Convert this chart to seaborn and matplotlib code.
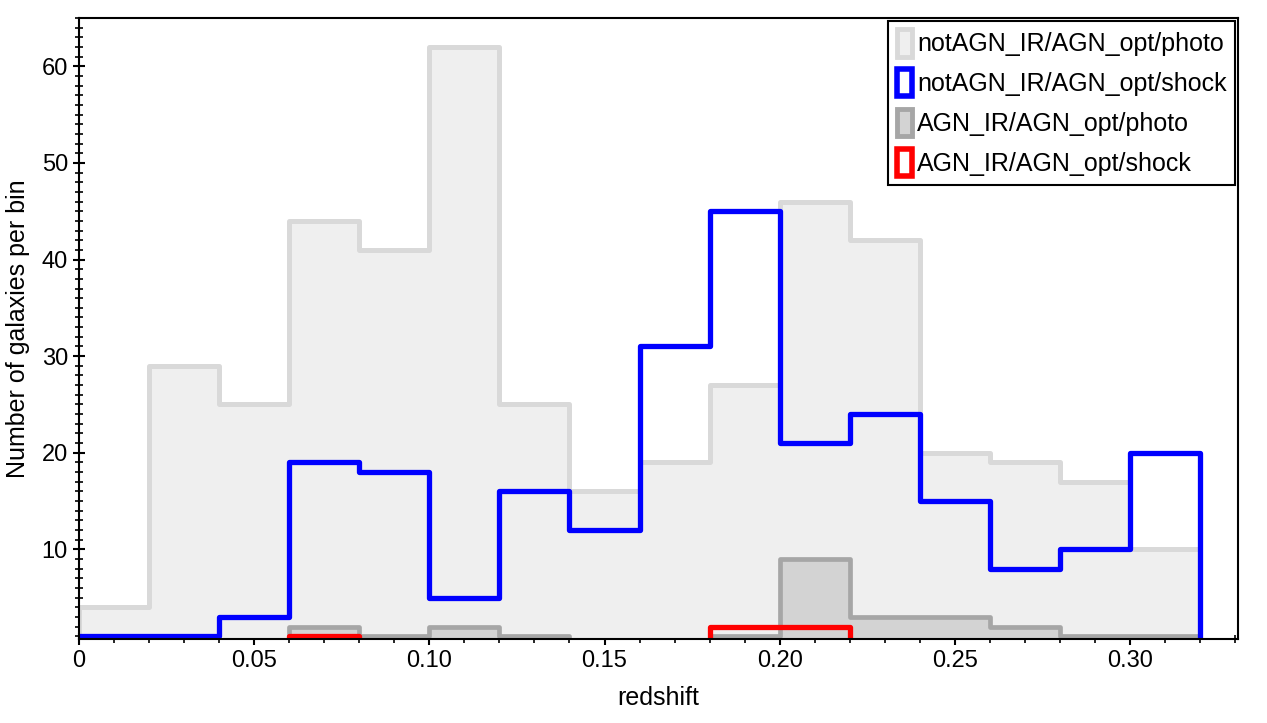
import numpy as np
import pandas as pd
import seaborn as sns
import matplotlib.pyplot as plt
from matplotlib.patches import Patch
from matplotlib.ticker import MultipleLocator, FixedLocator, FixedFormatter

# bin edges in redshift (last bin beyond 0.32 is empty)
edges = [0.00, 0.02, 0.04, 0.06, 0.08, 0.10, 0.12, 0.14, 0.16, 0.18,
         0.20, 0.22, 0.24, 0.26, 0.28, 0.30, 0.32, 0.34]
notagn_photo = [4, 29, 25, 44, 41, 62, 25, 16, 19, 27, 46, 42, 20, 19, 17, 10, 0]
notagn_shock = [1, 1, 3, 19, 18, 5, 16, 12, 31, 45, 21, 24, 15, 8, 10, 20, 0]
agn_photo = [0, 0, 0, 2, 1, 2, 1, 0, 0, 1, 9, 3, 3, 2, 1, 1, 0]
agn_shock = [0, 0, 0, 1, 0, 0, 0, 0, 0, 2, 2, 0, 0, 0, 0, 0, 0]

labels = ["notAGN_IR/AGN_opt/photo", "notAGN_IR/AGN_opt/shock",
          "AGN_IR/AGN_opt/photo", "AGN_IR/AGN_opt/shock"]

df = pd.DataFrame({
    "z": edges[:-1],
    "notagn_photo": notagn_photo,
    "notagn_shock": notagn_shock,
    "agn_photo": agn_photo,
    "agn_shock": agn_shock,
})

sns.set_theme(style="ticks")
plt.rcParams["font.family"] = ["Liberation Sans", "DejaVu Sans"]
plt.rcParams["text.color"] = "black"
plt.rcParams["axes.labelcolor"] = "black"

fig = plt.figure(figsize=(12.67, 7.23), dpi=100)
ax = fig.add_axes([0.0624, 0.116, 0.9146, 0.859])

# light gray filled step
sns.histplot(data=df, x="z", weights="notagn_photo", bins=edges, element="step",
             fill=True, facecolor="#efefef", edgecolor="#d9d9d9", linewidth=3.6,
             alpha=1, ax=ax)
# dark gray filled step
sns.histplot(data=df, x="z", weights="agn_photo", bins=edges, element="step",
             fill=True, facecolor="#d3d3d3", edgecolor="#a6a6a6", linewidth=3.4,
             alpha=1, ax=ax)
# blue step line
sns.histplot(data=df, x="z", weights="notagn_shock", bins=edges, element="step",
             fill=False, color="#0000ff", linewidth=3.8, ax=ax)
# red step line
sns.histplot(data=df, x="z", weights="agn_shock", bins=edges, element="step",
             fill=False, color="#ff0000", linewidth=3.8, ax=ax)

ax.set_xlim(0, 0.3308)
ax.set_ylim(0.7, 65)

xt = [0, 0.05, 0.10, 0.15, 0.20, 0.25, 0.30]
ax.xaxis.set_major_locator(FixedLocator(xt))
ax.xaxis.set_major_formatter(FixedFormatter(["0", "0.05", "0.10", "0.15", "0.20", "0.25", "0.30"]))
ax.xaxis.set_minor_locator(MultipleLocator(0.01))
ax.yaxis.set_major_locator(FixedLocator([10, 20, 30, 40, 50, 60]))
ax.yaxis.set_minor_locator(MultipleLocator(1))

ax.tick_params(which="major", direction="inout", length=9, width=1.5, labelsize=17,
               top=False, right=False, colors="black", labelcolor="black")
ax.tick_params(which="minor", direction="inout", length=6, width=1.2,
               top=False, right=False, colors="black")
for sp in ax.spines.values():
    sp.set_visible(True)
    sp.set_linewidth(1.5)
    sp.set_color("black")

ax.set_xlabel("redshift", fontsize=18, labelpad=10, color="black")
ax.set_ylabel("Number of galaxies per bin", fontsize=18, labelpad=8, color="black")

handles = [
    Patch(facecolor="#efefef", edgecolor="#d9d9d9", linewidth=3.5),
    Patch(facecolor="none", edgecolor="#0000ff", linewidth=4),
    Patch(facecolor="#d3d3d3", edgecolor="#a6a6a6", linewidth=3.5),
    Patch(facecolor="none", edgecolor="#ff0000", linewidth=4),
]
leg = ax.legend(handles, labels, loc="upper right", fontsize=18, frameon=True,
                fancybox=False, edgecolor="black", framealpha=1,
                handlelength=0.6, handleheight=1.3, handletextpad=0.2,
                labelspacing=0.5, borderpad=0.35, borderaxespad=0.1)
leg.get_frame().set_linewidth(1.5)
for t in leg.get_texts():
    t.set_color("black")

fig.savefig("out.png", dpi=100)
